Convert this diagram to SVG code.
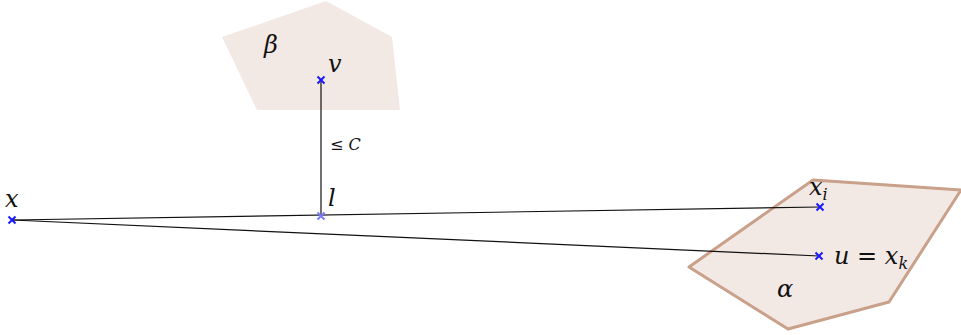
<svg xmlns="http://www.w3.org/2000/svg" width="961" height="335" viewBox="0 0 961 335">
<style>
.ln{stroke:#111;stroke-width:1.2;fill:none}
.pt{stroke:#1a1aff;stroke-width:2;fill:none}
</style>
<defs>
<path id="cross" d="M-3.5,-3.5L3.5,3.5M-3.5,3.5L3.5,-3.5"/>
</defs>
<g font-family="DejaVu Serif, serif" font-style="italic" font-size="24" fill="#111">
<g id="beta">
<polygon points="222,37 326,1 392,37 400,110 257,110" fill="#f3e9e4"/>
<text x="264" y="53">β</text>
</g>
<g id="alpha">
<polygon points="813,180 961,190 889,302 788,329 689,267" fill="#f3e9e4" stroke="#c9a08a" stroke-width="3" stroke-linejoin="round"/>
<text x="777" y="297">α</text>
</g>
<g id="connectors">
<line class="ln" x1="12" y1="220" x2="820" y2="207"/>
<line class="ln" x1="12" y1="220" x2="819" y2="256"/>
<line class="ln" x1="321" y1="216" x2="321" y2="80"/>
<text x="330" y="150" font-size="16" font-style="normal">≤ <tspan font-style="italic">C</tspan></text>
</g>
<g id="x">
<use href="#cross" x="12" y="220" class="pt"/>
<text x="5" y="207">x</text>
</g>
<g id="l">
<use href="#cross" x="321" y="216" class="pt" style="stroke:#7b7bff"/>
<text x="328" y="206">l</text>
</g>
<g id="v">
<use href="#cross" x="321" y="80" class="pt"/>
<text x="328" y="72">v</text>
</g>
<g id="xi">
<use href="#cross" x="820" y="207" class="pt"/>
<text x="809" y="195">x<tspan font-size="16" dy="5">i</tspan></text>
</g>
<g id="u">
<use href="#cross" x="819" y="256" class="pt"/>
<text x="834" y="264">u <tspan font-style="normal">=</tspan> x<tspan font-size="16" dy="5">k</tspan></text>
</g>
</g>
</svg>
